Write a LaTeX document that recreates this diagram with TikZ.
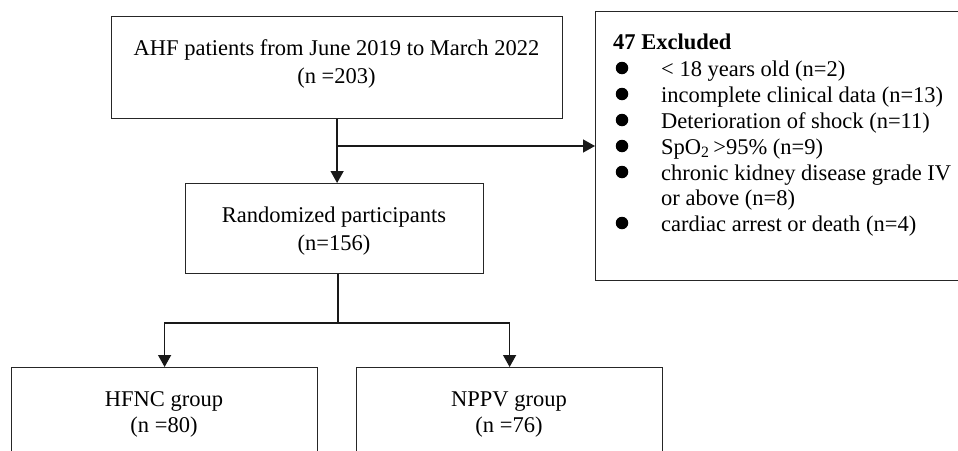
\documentclass[tikz,border=0pt]{standalone}
\usepackage{fontspec}
\setmainfont{Liberation Serif}
\usetikzlibrary{arrows.meta}
\tikzset{
  box/.style={draw=black!85, line width=1.2pt, anchor=north west, inner sep=0pt},
  txt/.style={anchor=base, inner sep=0pt, font=\fontsize{22.5}{26}\selectfont},
  ltxt/.style={anchor=base west, inner sep=0pt, font=\fontsize{22.5}{26}\selectfont},
  bul/.style={circle, fill=black, inner sep=0pt, minimum size=12.5pt},
  conn/.style={draw=black!90, line width=1.4pt},
  arr/.style={conn, -{Triangle[length=12pt,width=13pt]}},
}
\begin{document}
\begin{tikzpicture}[x=1pt,y=-1pt]
\useasboundingbox (0,0) rectangle (958,450);
\clip (0,0) rectangle (958,450);
% boxes
\node[box, minimum width=451pt, minimum height=102pt] (top) at (111,16) {};
\node[box, minimum width=298pt, minimum height=90pt] (rand) at (185,183) {};
\node[box, minimum width=306pt, minimum height=120pt] (hfnc) at (11,367) {};
\node[box, minimum width=306pt, minimum height=120pt] (nppv) at (356,367) {};
\node[box, minimum width=400pt, minimum height=269pt] (excl) at (595,11) {};
% texts
\node[txt] (t1) at (336.5,55) {AHF patients from June 2019 to March 2022};
\node[txt] (t2) at (336.5,83) {(n =203)};
\node[txt] (r1) at (334,222) {Randomized participants};
\node[txt] (r2) at (334,250) {(n=156)};
\node[txt] (h1) at (164,406) {HFNC group};
\node[txt] (h2) at (164,432) {(n =80)};
\node[txt] (n1) at (509,406) {NPPV group};
\node[txt] (n2) at (509,432) {(n =76)};
\node[ltxt, font=\fontsize{22.5}{26}\selectfont\bfseries] (e0) at (613,49) {47 Excluded};
\node[bul] (b1) at (622,68) {};
\node[ltxt] (e1) at (661,76) {< 18 years old (n=2)};
\node[bul] (b2) at (622,94) {};
\node[ltxt] (e2) at (661,102) {incomplete clinical data (n=13)};
\node[bul] (b3) at (622,120) {};
\node[ltxt] (e3) at (661,128) {Deterioration of shock (n=11)};
\node[bul] (b4) at (622,146) {};
\node[ltxt] (e4) at (661,154) {SpO\textsubscript{2}\,>95\% (n=9)};
\node[bul] (b5) at (622,172) {};
\node[ltxt] (e5) at (661,180) {chronic kidney disease grade IV};
\node[ltxt] (e6) at (661,205) {or above (n=8)};
\node[bul] (b6) at (622,223) {};
\node[ltxt] (e7) at (661,231) {cardiac arrest or death (n=4)};
% connectors
\draw[arr] (top.south) -- (top.south |- rand.north);
\coordinate (br) at (338,146);
\draw[arr] (br) -- (br -| excl.west);
\coordinate (split) at (338,323);
\draw[conn] (rand.south -| split) -- (split);
\draw[arr] (split) -| (hfnc.north);
\draw[arr] (split) -| (nppv.north);
\end{tikzpicture}
\end{document}
